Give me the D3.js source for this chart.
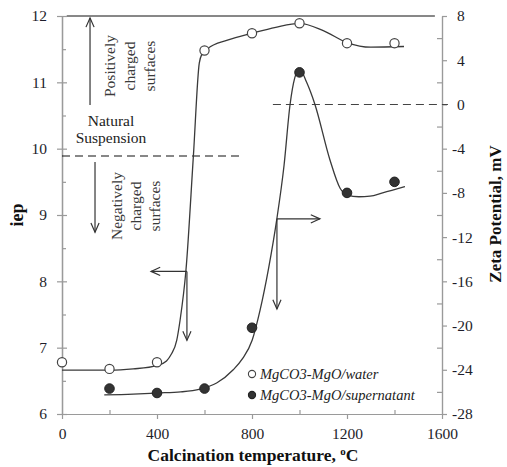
<!DOCTYPE html>
<html><head><meta charset="utf-8">
<script src="https://cdn.jsdelivr.net/npm/d3@7"></script>
<style>
body{margin:0;background:#fff;}
svg{display:block;font-family:"Liberation Serif","Times New Roman",serif;}
</style></head>
<body><svg id="c" width="507" height="467"></svg>
<script>
// ---- data ----
const tempsWater = [0,200,400,600,800,1000,1200,1400];
const iepWater   = [6.78,6.68,6.78,11.48,11.74,11.89,11.59,11.59];
const tempsSuper = [200,400,600,800,1000,1200,1400];
const zetaSuper  = [-25.7,-26.1,-25.7,-20.2,2.9,-8.0,-7.0];
// fitted trend curves
const fitWaterT = [0,200,300,400,440,460,483,497,522,553,578,590,610,700,800,900,1000,1100,1200,1300,1440];
const fitWaterV = [6.66,6.66,6.68,6.73,6.8,6.9,7.11,7.41,8.17,9.88,11.29,11.43,11.5,11.64,11.74,11.83,11.89,11.78,11.6,11.53,11.54];
const fitSuperT = [178,300,400,500,581,651,721,760,801,834,870,904,935,960,980,1000,1030,1065,1128,1171,1201,1250,1297,1350,1444];
const fitSuperV = [-26.27,-26.2,-26.1,-26.0,-25.75,-25.2,-24.0,-23.0,-21.3,-18.6,-14.8,-10.44,-5.5,-0.05,2.4,3.2,2.0,0,-5.0,-7.58,-8.2,-8.35,-8.3,-8.0,-7.43];
const xTicks = [0,400,800,1200,1600];
const xMinor = [200,600,1000,1400];
const yLTicks = [6,7,8,9,10,11,12];
const yLMinor = [6.5,7.5,8.5,9.5,10.5,11.5];
const yRTicks = [8,4,0,-4,-8,-12,-16,-20,-24,-28];
const yRMinor = [6,2,-2,-6,-10,-14,-18,-22,-26];
const seriesNames = ["MgCO3-MgO/water","MgCO3-MgO/supernatant"];

const svg = d3.select("#c");
const x = d3.scaleLinear([0,1600],[62,442]);
const yL = d3.scaleLinear([6,12],[414,16]);
const yR = d3.scaleLinear([-28,8],[414,16]);

const axisCol = "#9a9a9a", txtCol = "#1e1e2a";
function styleAxis(g){
  g.selectAll("path.domain").attr("stroke",axisCol).attr("stroke-width",1.2);
  g.selectAll(".tick line").attr("stroke",axisCol).attr("stroke-width",1.2);
  g.selectAll(".tick text").attr("fill",txtCol).attr("font-size","15.5px").attr("font-family","Liberation Serif, serif");
}

// top frame line
svg.append("line").attr("x1",x(20)).attr("x2",x(1570)).attr("y1",yL(12)).attr("y2",yL(12))
  .attr("stroke","#111").attr("stroke-width",1);

// left axis
svg.append("g").attr("transform",`translate(${x(0)},0)`)
  .call(d3.axisLeft(yL).tickValues(yLTicks).tickSize(5).tickSizeOuter(0).tickPadding(10).tickFormat(d=>String(d))).call(styleAxis);
svg.append("g").attr("transform",`translate(${x(0)},0)`)
  .call(d3.axisRight(yL).tickValues(yLTicks).tickSize(5).tickSizeOuter(0).tickFormat("")).call(styleAxis);
svg.append("g").attr("transform",`translate(${x(0)},0)`)
  .call(d3.axisRight(yL).tickValues(yLMinor).tickSize(4).tickSizeOuter(0).tickFormat("")).call(styleAxis);

// bottom axis
svg.append("g").attr("transform",`translate(0,${yL(6)})`)
  .call(d3.axisBottom(x).tickValues(xTicks).tickSize(5).tickSizeOuter(0).tickPadding(9).tickFormat(d=>String(d))).call(styleAxis);
svg.append("g").attr("transform",`translate(0,${yL(6)})`)
  .call(d3.axisTop(x).tickValues(xMinor).tickSize(4).tickSizeOuter(0).tickFormat("")).call(styleAxis);

// right axis
const gR = svg.append("g").attr("transform",`translate(${x(1600)},0)`)
  .call(d3.axisRight(yR).tickValues(yRTicks).tickSize(5).tickSizeOuter(0).tickPadding(10).tickFormat(d=>String(d))).call(styleAxis);
gR.selectAll(".tick text").attr("dx",d=>d<0?-5:0);
svg.append("g").attr("transform",`translate(${x(1600)},0)`)
  .call(d3.axisLeft(yR).tickValues(yRMinor).tickSize(5).tickSizeOuter(0).tickFormat("")).call(styleAxis);

// dashed reference lines
svg.append("line").attr("x1",x(0)).attr("x2",x(750)).attr("y1",yL(9.89)).attr("y2",yL(9.89))
  .attr("stroke","#111").attr("stroke-width",1.1).attr("stroke-dasharray","8,5");
svg.append("line").attr("x1",x(888)).attr("x2",x(1625)).attr("y1",yR(0)).attr("y2",yR(0))
  .attr("stroke","#444").attr("stroke-width",1.1).attr("stroke-dasharray","8,5");

// curves
const lineW = d3.line().x(d=>x(d[0])).y(d=>yL(d[1])).curve(d3.curveMonotoneX);
const lineS = d3.line().x(d=>x(d[0])).y(d=>yR(d[1])).curve(d3.curveMonotoneX);
svg.append("path").attr("d",lineW(d3.zip(fitWaterT,fitWaterV))).attr("fill","none").attr("stroke","#3a3a3a").attr("stroke-width",1.3);
svg.append("path").attr("d",lineS(d3.zip(fitSuperT,fitSuperV))).attr("fill","none").attr("stroke","#3a3a3a").attr("stroke-width",1.3);

// markers
svg.append("g").selectAll("circle").data(d3.zip(tempsWater,iepWater)).join("circle")
  .attr("cx",d=>x(d[0])).attr("cy",d=>yL(d[1])).attr("r",4.6)
  .attr("fill","#fff").attr("stroke","#444").attr("stroke-width",1.2);
svg.append("g").selectAll("circle").data(d3.zip(tempsSuper,zetaSuper)).join("circle")
  .attr("cx",d=>x(d[0])).attr("cy",d=>yR(d[1])).attr("r",4.8)
  .attr("fill","#333").attr("stroke","#222").attr("stroke-width",1);

// arrows
function arrow(x1,y1,x2,y2){
  svg.append("line").attr("x1",x1).attr("y1",y1).attr("x2",x2).attr("y2",y2).attr("stroke","#333").attr("stroke-width",1.2);
  const a = Math.atan2(y2-y1,x2-x1), L=10, w=0.42;
  const p1=[x2-L*Math.cos(a-w),y2-L*Math.sin(a-w)], p2=[x2-L*Math.cos(a+w),y2-L*Math.sin(a+w)];
  svg.append("path").attr("d",`M${p1}L${x2},${y2}L${p2}`).attr("fill","none").attr("stroke","#333").attr("stroke-width",1.2);
}
arrow(x(118),yL(10.66),x(118),yL(11.97));
arrow(x(139),yL(9.80),x(139),yL(8.74));
arrow(x(526),yL(8.15),x(375),yL(8.15));
arrow(x(526),yL(8.15),x(526),yL(7.11));
arrow(x(905),yR(-10.35),x(1086),yR(-10.35));
arrow(x(905),yR(-10.35),x(905),yR(-18.5));

// annotation text
const annCol = "#3a3a3a";
function vtext(lines, xs, cy){
  lines.forEach((t,i)=>{
    svg.append("text").attr("transform",`translate(${xs[i]},${cy}) rotate(-90)`)
      .attr("text-anchor","middle").attr("font-size","15.5px").attr("fill",annCol).text(t);
  });
}
vtext(["Positively","charged","surfaces"],[115,135,155],66);
vtext(["Negatively","charged","surfaces"],[122,141,160],206);
svg.append("text").attr("x",111).attr("y",126).attr("text-anchor","middle").attr("font-size","15.5px").attr("fill","#222").text("Natural");
svg.append("text").attr("x",111).attr("y",143).attr("text-anchor","middle").attr("font-size","15.5px").attr("fill","#222").text("Suspension");

// legend
const leg = svg.append("g");
seriesNames.forEach((n,i)=>{
  const cy = 374 + i*21;
  leg.append("circle").attr("cx",252).attr("cy",cy).attr("r",3.6)
    .attr("fill",i===0?"#fff":"#333").attr("stroke",i===0?"#444":"#222").attr("stroke-width",1.1);
  leg.append("text").attr("x",260).attr("y",cy+5).attr("font-size","14.5px").attr("font-style","italic").attr("fill","#222").text(n);
});

// axis titles
const xt = svg.append("text").attr("x",253).attr("y",461).attr("text-anchor","middle")
  .attr("font-size","17.5px").attr("font-weight","bold").attr("fill","#111");
xt.append("tspan").text("Calcination temperature, ");
xt.append("tspan").attr("font-size","11px").attr("dy","-6").text("o");
xt.append("tspan").attr("dy","6").text("C");
svg.append("text").attr("transform","translate(23,215) rotate(-90)").attr("text-anchor","middle")
  .attr("font-size","18px").attr("font-weight","bold").attr("fill","#111").text("iep");
svg.append("text").attr("transform","translate(501,214) rotate(-90)").attr("text-anchor","middle")
  .attr("font-size","17px").attr("font-weight","bold").attr("fill","#111").text("Zeta Potential, mV");
</script></body></html>
